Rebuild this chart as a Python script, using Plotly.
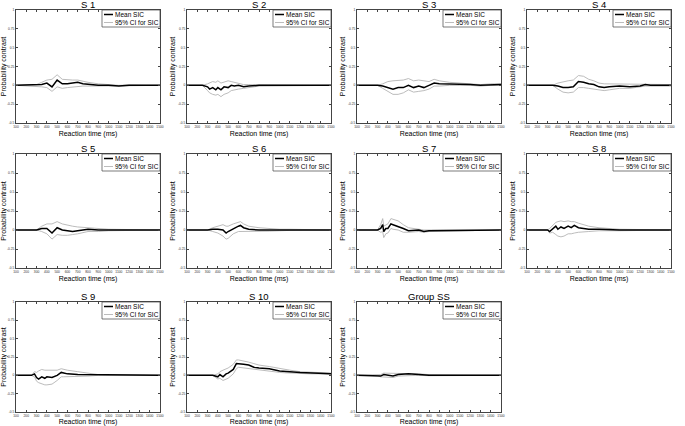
import plotly.graph_objects as go

# ---------------- data ----------------
titles = ["S 1", "S 2", "S 3", "S 4", "S 5", "S 6", "S 7", "S 8", "S 9", "S 10", "Group SS"]
legend_labels = ["Mean SIC", "95% CI for SIC"]
x_ticks = list(range(100, 1501, 100))
y_ticks = [-0.5, -0.25, 0, 0.25, 0.5, 0.75, 1]
y_tick_labels = ["-0.5", "-0.25", "0", "0.25", "0.5", "0.75", "1"]

s1_x    = [100, 300, 350, 400, 450, 500, 550, 600, 650, 700, 750, 800, 900, 1000, 1100, 1200, 1500]
s1_mean = [0, 0, 0.01, 0.03, -0.02, 0.07, 0.02, 0.02, 0.03, 0.04, 0.02, 0.01, 0.0, 0.0, -0.01, 0.0, 0]
s1_lo   = [0, -0.01, -0.02, -0.03, -0.08, -0.02, -0.04, -0.03, -0.02, -0.01, -0.01, -0.01, -0.01, -0.01, -0.01, -0.005, 0]
s1_hi   = [0, 0.01, 0.04, 0.07, 0.08, 0.14, 0.08, 0.07, 0.07, 0.07, 0.05, 0.04, 0.02, 0.01, 0.0, 0.005, 0]

s2_x    = [100, 250, 300, 320, 350, 380, 400, 430, 460, 500, 530, 560, 600, 650, 700, 800, 1500]
s2_mean = [0, 0, -0.02, -0.05, -0.03, -0.06, -0.03, -0.06, -0.02, -0.03, 0.0, -0.01, 0.0, -0.02, -0.01, 0.0, 0]
s2_lo   = [0, 0, -0.07, -0.1, -0.12, -0.13, -0.12, -0.15, -0.12, -0.1, -0.07, -0.06, -0.05, -0.04, -0.03, -0.01, 0]
s2_hi   = [0, 0, 0.02, 0.03, 0.05, 0.04, 0.06, 0.03, 0.04, 0.06, 0.05, 0.04, 0.03, 0.01, 0.01, 0.005, 0]

s3_x    = [100, 300, 350, 400, 450, 500, 550, 600, 650, 700, 750, 800, 850, 900, 1000, 1100, 1200, 1300, 1400, 1500]
s3_mean = [0, 0, -0.01, -0.03, -0.05, -0.03, -0.03, 0.0, -0.03, -0.01, -0.03, 0.0, 0.03, 0.02, 0.02, 0.02, 0.01, 0.0, 0.01, 0.01]
s3_lo   = [0, 0, -0.04, -0.08, -0.12, -0.12, -0.1, -0.06, -0.09, -0.08, -0.07, -0.05, -0.01, -0.01, 0.0, 0.0, 0.0, -0.01, 0.0, 0.0]
s3_hi   = [0, 0, 0.02, 0.05, 0.06, 0.07, 0.07, 0.09, 0.06, 0.07, 0.06, 0.05, 0.08, 0.06, 0.04, 0.03, 0.02, 0.01, 0.02, 0.02]

s4_x    = [100, 350, 400, 450, 500, 550, 600, 650, 700, 750, 800, 850, 900, 1000, 1100, 1200, 1250, 1300, 1400, 1500]
s4_mean = [0, 0, -0.01, -0.03, -0.03, -0.02, 0.05, 0.04, 0.02, 0.01, -0.02, -0.03, -0.02, -0.01, -0.02, -0.01, 0.01, 0.0, 0.0, 0.0]
s4_lo   = [0, 0, -0.05, -0.09, -0.1, -0.09, -0.03, -0.03, -0.04, -0.05, -0.06, -0.07, -0.06, -0.04, -0.04, -0.02, -0.01, -0.01, -0.01, -0.01]
s4_hi   = [0, 0, 0.03, 0.05, 0.06, 0.07, 0.13, 0.12, 0.08, 0.06, 0.03, 0.02, 0.02, 0.02, 0.01, 0.01, 0.02, 0.01, 0.01, 0.01]

s5_x    = [100, 300, 350, 400, 450, 500, 550, 600, 650, 700, 800, 900, 1000, 1500]
s5_mean = [0, 0, 0.02, 0.02, -0.04, 0.03, 0.0, -0.01, -0.02, -0.01, 0.01, 0.0, 0.0, 0]
s5_lo   = [0, 0, -0.02, -0.05, -0.12, -0.06, -0.07, -0.07, -0.06, -0.05, -0.02, -0.02, -0.01, 0]
s5_hi   = [0, 0, 0.05, 0.08, 0.08, 0.11, 0.08, 0.06, 0.05, 0.04, 0.03, 0.02, 0.01, 0]

s6_x    = [100, 300, 350, 400, 450, 480, 500, 550, 600, 620, 650, 700, 800, 900, 1000, 1100, 1500]
s6_mean = [0, 0, 0.01, 0.01, 0.0, -0.04, -0.02, 0.02, 0.05, 0.06, 0.03, 0.01, 0.0, 0.0, 0.0, 0.0, 0]
s6_lo   = [0, 0, -0.02, -0.04, -0.08, -0.12, -0.11, -0.05, -0.02, -0.02, -0.02, -0.02, -0.02, -0.015, -0.01, -0.005, 0]
s6_hi   = [0, 0, 0.03, 0.05, 0.07, 0.05, 0.05, 0.08, 0.1, 0.11, 0.08, 0.05, 0.03, 0.02, 0.01, 0.01, 0]

s7_x    = [100, 300, 330, 350, 360, 380, 400, 430, 450, 500, 550, 600, 700, 750, 800, 1500]
s7_mean = [0, 0, 0.02, 0.07, -0.02, 0.02, 0.02, 0.08, 0.07, 0.05, 0.02, -0.01, 0.0, -0.02, -0.01, 0]
s7_lo   = [0, 0, -0.03, -0.02, -0.1, -0.05, -0.04, 0.02, 0.01, 0.0, -0.03, -0.03, -0.02, -0.03, -0.02, 0]
s7_hi   = [0, 0, 0.07, 0.15, 0.05, 0.07, 0.08, 0.15, 0.14, 0.12, 0.07, 0.03, 0.01, 0.0, 0.0, 0]

s8_x    = [100, 300, 320, 350, 380, 400, 430, 460, 500, 530, 560, 600, 700, 800, 1000, 1500]
s8_mean = [0, 0, -0.02, 0.02, 0.05, 0.01, 0.04, 0.02, 0.05, 0.03, 0.06, 0.03, 0.01, 0.01, 0.0, 0]
s8_lo   = [0, 0, -0.04, -0.03, -0.06, -0.08, -0.09, -0.08, -0.05, -0.05, -0.04, -0.03, -0.02, -0.01, -0.01, 0]
s8_hi   = [0, 0, 0.02, 0.06, 0.1, 0.11, 0.12, 0.11, 0.12, 0.11, 0.11, 0.09, 0.05, 0.03, 0.01, 0]

s9_x    = [100, 250, 280, 300, 320, 350, 380, 400, 450, 500, 540, 560, 600, 700, 800, 900, 1500]
s9_mean = [0, 0, 0.02, -0.03, -0.05, -0.02, -0.04, -0.02, -0.03, 0.0, 0.04, 0.03, 0.02, 0.01, 0.01, 0.0, 0]
s9_lo   = [0, 0, -0.02, -0.08, -0.1, -0.12, -0.13, -0.13, -0.12, -0.07, -0.02, -0.02, -0.02, -0.02, -0.01, 0.0, 0]
s9_hi   = [0, 0, 0.05, 0.04, 0.06, 0.08, 0.07, 0.07, 0.06, 0.07, 0.09, 0.08, 0.07, 0.05, 0.03, 0.01, 0]

s10_x    = [100, 350, 400, 420, 450, 480, 500, 550, 580, 600, 650, 700, 750, 800, 900, 1000, 1050, 1100, 1200, 1300, 1400, 1500]
s10_mean = [0, 0, -0.02, 0.01, -0.02, 0.02, 0.03, 0.08, 0.16, 0.16, 0.15, 0.14, 0.11, 0.1, 0.09, 0.06, 0.05, 0.05, 0.04, 0.03, 0.03, 0.02]
s10_lo   = [0, 0, -0.05, -0.04, -0.07, -0.05, -0.04, 0.02, 0.09, 0.11, 0.1, 0.09, 0.08, 0.07, 0.06, 0.04, 0.035, 0.03, 0.02, 0.02, 0.02, 0.015]
s10_hi   = [0, 0, 0.02, 0.05, 0.07, 0.09, 0.1, 0.15, 0.21, 0.21, 0.2, 0.18, 0.16, 0.14, 0.12, 0.09, 0.08, 0.07, 0.05, 0.04, 0.035, 0.03]

grp_x    = [100, 300, 330, 360, 400, 450, 500, 600, 700, 800, 1500]
grp_mean = [0, 0, -0.01, 0.01, 0.0, -0.01, 0.01, 0.02, 0.01, 0.0, 0]
grp_lo   = [0, 0, -0.02, -0.02, -0.02, -0.03, -0.01, 0.0, 0.0, -0.005, 0]
grp_hi   = [0, 0, 0.01, 0.03, 0.03, 0.02, 0.03, 0.03, 0.02, 0.01, 0]

panels = [
    (s1_x, s1_mean, s1_lo, s1_hi), (s2_x, s2_mean, s2_lo, s2_hi),
    (s3_x, s3_mean, s3_lo, s3_hi), (s4_x, s4_mean, s4_lo, s4_hi),
    (s5_x, s5_mean, s5_lo, s5_hi), (s6_x, s6_mean, s6_lo, s6_hi),
    (s7_x, s7_mean, s7_lo, s7_hi), (s8_x, s8_mean, s8_lo, s8_hi),
    (s9_x, s9_mean, s9_lo, s9_hi), (s10_x, s10_mean, s10_lo, s10_hi),
    (grp_x, grp_mean, grp_lo, grp_hi),
]

# ---------------- layout geometry (pixels) ----------------
W, H = 685, 426
col_left = [16, 187, 357, 527]
ax_w = 144
row_top = [10, 154, 302]
row_bot = [123, 268, 412]

FONT = "Liberation Sans, Arial, sans-serif"
CI_COLOR = "#b4b4b4"
AX_COLOR = "#444444"

fig = go.Figure()
layout = dict(
    template="none",
    width=W, height=H, margin=dict(l=0, r=0, t=0, b=0, autoexpand=False),
    paper_bgcolor="white", plot_bgcolor="white",
    font=dict(family=FONT, color="black"),
    showlegend=False, annotations=[], shapes=[],
)

for i, (xs, m, lo, hi) in enumerate(panels):
    r, c = divmod(i, 4)
    n = i + 1
    xa = "x" if n == 1 else f"x{n}"
    ya = "y" if n == 1 else f"y{n}"
    x0 = col_left[c] / W
    x1 = (col_left[c] + ax_w) / W
    y1 = 1 - row_top[r] / H
    y0 = 1 - row_bot[r] / H
    ax_h = row_bot[r] - row_top[r]

    fig.add_trace(go.Scatter(x=xs, y=hi, mode="lines", name=legend_labels[1],
                             line=dict(color=CI_COLOR, width=0.9),
                             xaxis=xa, yaxis=ya))
    fig.add_trace(go.Scatter(x=xs, y=lo, mode="lines", name=legend_labels[1],
                             line=dict(color=CI_COLOR, width=0.9),
                             xaxis=xa, yaxis=ya))
    fig.add_trace(go.Scatter(x=xs, y=m, mode="lines", name=legend_labels[0],
                             line=dict(color="black", width=1.5),
                             xaxis=xa, yaxis=ya))

    axis_common = dict(showline=True, linecolor=AX_COLOR, linewidth=0.8, mirror="ticks",
                       ticks="inside", ticklen=2, tickcolor=AX_COLOR, tickwidth=0.6,
                       showgrid=False, zeroline=False, automargin=False, tickangle=0,
                       tickfont=dict(size=3.3, family=FONT, color="#333"))
    layout["xaxis" if n == 1 else f"xaxis{n}"] = dict(
        axis_common, domain=[x0, x1], anchor=ya, range=[100, 1500],
        tickmode="array", tickvals=x_ticks, ticktext=[str(v) for v in x_ticks],
        title=dict(text="Reaction time (ms)", font=dict(size=7, family=FONT), standoff=2.5))
    layout["yaxis" if n == 1 else f"yaxis{n}"] = dict(
        axis_common, domain=[y0, y1], anchor=xa, range=[-0.5, 1],
        tickmode="array", tickvals=y_ticks, ticktext=y_tick_labels,
        title=dict(text="Probability contrast", font=dict(size=7, family=FONT), standoff=1))

    # panel title
    layout["annotations"].append(dict(
        text=titles[i], x=(x0 + x1) / 2, y=y1, xref="paper", yref="paper",
        xanchor="center", yanchor="bottom", yshift=-1.2, showarrow=False,
        font=dict(size=9.5, family=FONT), borderpad=0))

    # legend box (drawn in the axis domain, top-right corner)
    xd = f"{xa} domain"
    yd = f"{ya} domain"
    bx0 = 1 - 58 / ax_w
    by0 = 1 - 17 / ax_h
    layout["shapes"].append(dict(type="rect", xref=xd, yref=yd, x0=bx0, x1=1, y0=by0, y1=1,
                                 line=dict(color=AX_COLOR, width=0.7), fillcolor="white", layer="above"))
    for k, (lab, col, lw) in enumerate([(legend_labels[0], "black", 1.5),
                                        (legend_labels[1], CI_COLOR, 0.9)]):
        yy = 1 - (4.5 + 8 * k) / ax_h
        lx0 = bx0 + 2 / ax_w
        lx1 = bx0 + 11 / ax_w
        layout["shapes"].append(dict(type="line", xref=xd, yref=yd, x0=lx0, x1=lx1, y0=yy, y1=yy,
                                     line=dict(color=col, width=lw), layer="above"))
        layout["annotations"].append(dict(
            text=lab, xref=xd, yref=yd, x=lx1 + 0.5 / ax_w, y=yy, xanchor="left", yanchor="middle",
            showarrow=False, font=dict(size=6.5, family=FONT, color="black"), borderpad=0))

fig.update_layout(**layout)
fig.write_html("out.html", config={"displayModeBar": False},
               post_script="document.body.style.margin='0';document.body.style.padding='0';")
